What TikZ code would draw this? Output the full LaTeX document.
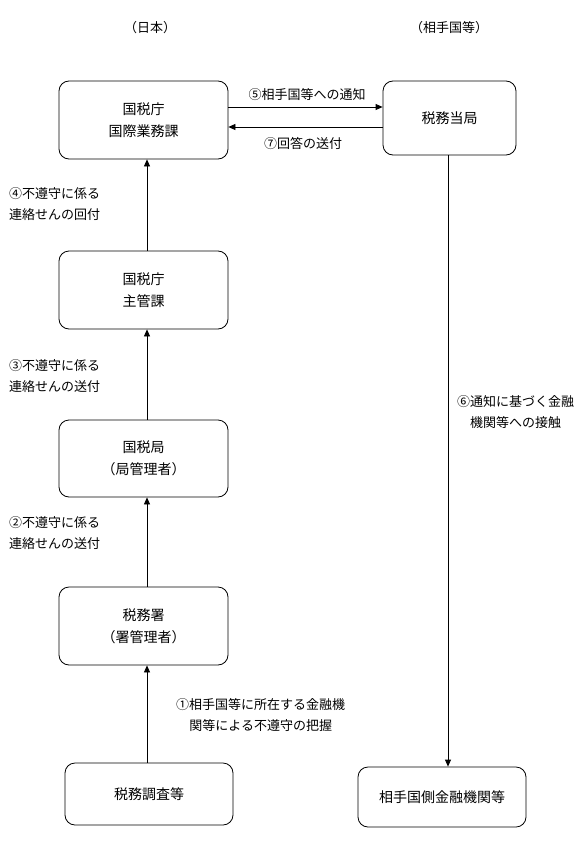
\documentclass[tikz,border=0pt]{standalone}
\usepackage{fontspec}
\setmainfont{Noto Sans CJK JP}
\usetikzlibrary{arrows.meta}
\begin{document}
\begin{tikzpicture}[x=1pt,y=-1pt,
  box/.style={draw,rounded corners=10pt,line width=0.8pt,align=center,
    font=\fontsize{14}{22}\selectfont,inner sep=0pt},
  lbl/.style={font=\fontsize{13}{21}\selectfont,inner sep=0pt},
  arr/.style={line width=0.8pt,-{Triangle[length=7pt,width=6pt]}}]
\useasboundingbox[fill=white] (0,0) rectangle (580,856);
% headers
\node[lbl] (hj) at (150,28) {（日本）};
\node[lbl] (hf) at (449,28) {（相手国等）};
% boxes
\node[box,minimum width=169pt,minimum height=78pt] (A) at (143.5,120) {国税庁\\国際業務課};
\node[box,minimum width=133pt,minimum height=74pt] (B) at (449.5,118) {税務当局};
\node[box,minimum width=169pt,minimum height=78pt] (C) at (143.5,290) {国税庁\\主管課};
\node[box,minimum width=169pt,minimum height=77pt] (D) at (143.5,458.5) {国税局\\（局管理者）};
\node[box,minimum width=169pt,minimum height=78pt] (E) at (143.5,626) {税務署\\（署管理者）};
\node[box,minimum width=168pt,minimum height=62pt] (F) at (149,794) {税務調査等};
\node[box,minimum width=168pt,minimum height=60pt] (G) at (442,797) {相手国側金融機関等};
% helper coordinates
\coordinate (ax) at (147,0);
\coordinate (rx) at (448,0);
\coordinate (y5) at (0,107);
\coordinate (y7) at (0,127);
% connectors
\draw[arr] (F.north -| ax) -- (E.south -| ax);
\draw[arr] (E.north -| ax) -- (D.south -| ax);
\draw[arr] (D.north -| ax) -- (C.south -| ax);
\draw[arr] (C.north -| ax) -- (A.south -| ax);
\draw[arr] (A.east |- y5) -- (B.west |- y5);
\draw[arr] (B.west |- y7) -- (A.east |- y7);
\draw[arr] (B.south -| rx) -- (G.north -| rx);
% labels
\node[lbl,anchor=south] (l5) at (307,101) {⑤相手国等への通知};
\node[lbl,anchor=north] (l7) at (303,137) {⑦回答の送付};
\node[lbl,anchor=west,align=left] (l4) at (9,204.5) {④不遵守に係る\\連絡せんの回付};
\node[lbl,anchor=west,align=left] (l3) at (9,376.5) {③不遵守に係る\\連絡せんの送付};
\node[lbl,anchor=west,align=left] (l2) at (9,533.5) {②不遵守に係る\\連絡せんの送付};
\node[lbl,anchor=west,align=center] (l1) at (176,715) {①相手国等に所在する金融機\\関等による不遵守の把握};
\node[lbl,anchor=west,align=center] (l6) at (457,412.5) {⑥通知に基づく金融\\機関等への接触};
\end{tikzpicture}
\end{document}
